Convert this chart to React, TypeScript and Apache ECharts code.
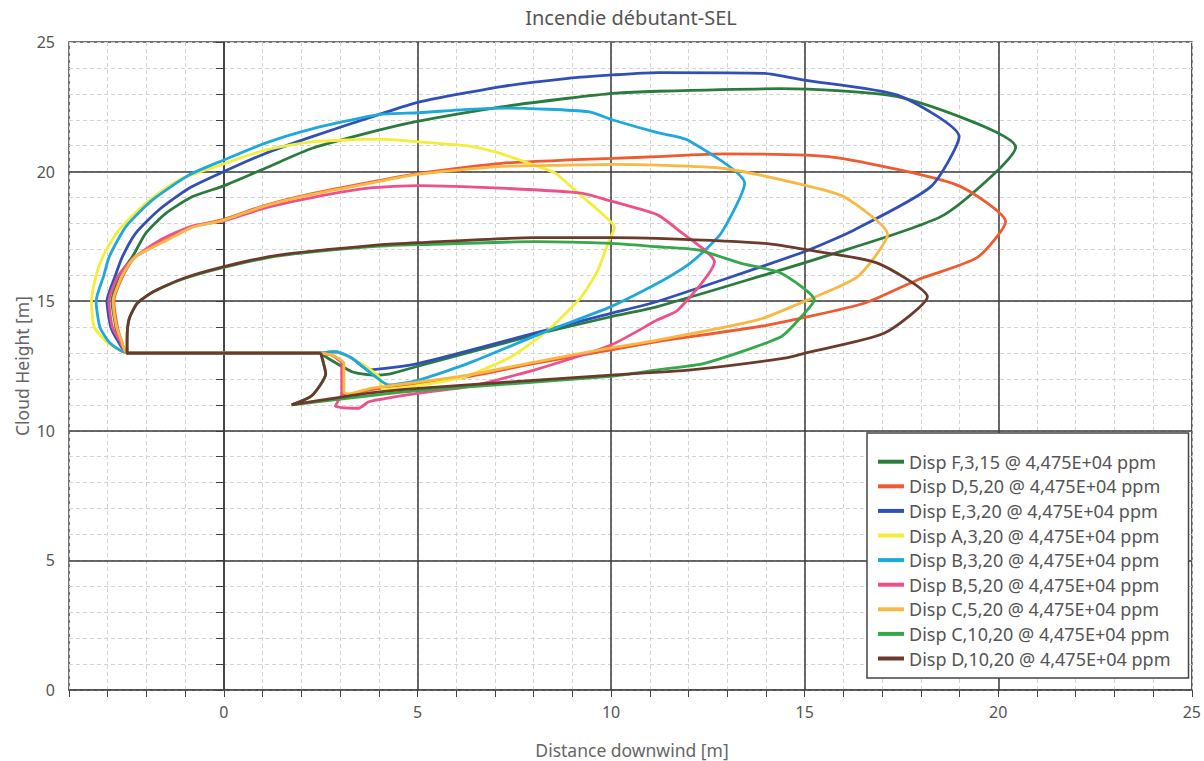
import React, { useEffect, useRef } from "react";
import * as echarts from "echarts";

const title = "Incendie débutant-SEL";
const xName = "Distance downwind [m]";
const yName = "Cloud Height [m]";
const majorX = [0, 5, 10, 15, 20];
const majorY = [5, 10, 15, 20];

const seriesNames = [
  "Disp F,3,15 @ 4,475E+04 ppm",
  "Disp D,5,20 @ 4,475E+04 ppm",
  "Disp E,3,20 @ 4,475E+04 ppm",
  "Disp A,3,20 @ 4,475E+04 ppm",
  "Disp B,3,20 @ 4,475E+04 ppm",
  "Disp B,5,20 @ 4,475E+04 ppm",
  "Disp C,5,20 @ 4,475E+04 ppm",
  "Disp C,10,20 @ 4,475E+04 ppm",
  "Disp D,10,20 @ 4,475E+04 ppm",
];
const seriesColors = ["#2a7b3c", "#f05a30", "#3050b8", "#f2ee3a", "#1ea8dc", "#f0508a", "#f7b846", "#34a84a", "#6b3a2a"];

const dispF315 = [[2.5,13],[-2.5,13],[-2.7,13.5],[-2.79,14],[-2.89,15],[-2.7,16],[-2.36,16.72],[-2.02,17.62],[-1.5,18.39],[-0.82,19.03],[0,19.45],[1.07,20.13],[2.28,20.9],[4.0,21.6],[5.03,21.95],[7.17,22.5],[8.89,22.83],[10.05,23.02],[11.2,23.1],[14.39,23.2],[17.48,22.86],[20.45,20.94],[18.6,18.33],[15.67,16.8],[11.2,14.79],[10.0,14.4],[8.03,13.7],[5.03,12.5],[4.3,12.2],[3.82,12.15],[3.31,12.28],[2.62,12.86],[2.5,13]];
const dispD520 = [[2.5,13],[-2.5,13],[-2.65,13.5],[-2.75,14],[-2.84,15],[-2.6,16],[-2.3,16.7],[-1.5,17.36],[-0.82,17.88],[0,18.16],[1.07,18.7],[2.28,19.15],[4.0,19.65],[5.03,19.93],[7.17,20.32],[8.89,20.45],[10.05,20.51],[11.2,20.58],[12.93,20.68],[15.76,20.55],[18.94,19.48],[20.19,18.07],[19.46,16.69],[17.91,15.82],[16.54,14.92],[14.05,14.08],[11.2,13.44],[10.0,13.12],[8.03,12.6],[6.31,12.09],[5.03,11.83],[3.74,11.57],[3.22,11.38],[3.05,11.45],[3.05,12.6],[2.78,12.92],[2.5,13]];
const dispE320 = [[2.5,13],[-2.5,13],[-2.75,13.5],[-2.92,14],[-3.02,15],[-2.8,16],[-2.62,16.72],[-2.28,17.62],[-1.68,18.52],[-0.9,19.36],[0,20.0],[1.07,20.7],[2.28,21.35],[4.0,22.2],[5.03,22.68],[7.17,23.28],[8.89,23.6],[10.05,23.73],[11.2,23.82],[13.96,23.79],[14.99,23.53],[17.4,22.95],[18.99,21.35],[18.26,19.42],[16.28,17.75],[14.99,16.91],[11.2,14.99],[10,14.53],[8.03,13.77],[5.03,12.6],[3.74,12.35],[3.31,12.8],[2.88,13.05],[2.5,13]];
const dispA320 = [[2.5,13],[-2.5,13],[-3.0,13.4],[-3.35,14],[-3.42,15],[-3.3,16],[-3.1,16.8],[-2.71,17.75],[-2.02,18.78],[-1.16,19.68],[0,20.3],[1.07,20.83],[2.28,21.15],[4.0,21.25],[5.03,21.15],[6.31,20.99],[7.09,20.72],[7.86,20.33],[8.55,19.95],[9.06,19.29],[9.75,18.4],[10.09,17.85],[9.92,17.24],[9.66,16.2],[9.23,15.17],[8.38,13.89],[7.42,12.86],[6.23,12.09],[5.03,11.75],[4.1,11.6],[4.0,12.1],[3.74,12.41],[3.31,12.8],[2.88,13.05],[2.5,13]];
const dispB320 = [[2.5,13],[-2.5,13],[-2.95,13.4],[-3.2,14],[-3.3,15],[-3.1,16],[-2.96,16.72],[-2.53,17.88],[-1.85,18.9],[-0.9,19.87],[0,20.45],[1.07,21.1],[2.28,21.65],[4.0,22.2],[5.03,22.27],[6.31,22.4],[7.35,22.45],[9.41,22.31],[10.05,21.99],[11.2,21.5],[11.98,21.22],[13.45,19.55],[12.84,17.62],[12.07,16.5],[11.2,15.69],[10.0,14.79],[8.2,13.76],[6.31,12.6],[5.03,11.96],[4.25,11.77],[3.91,12.09],[3.31,12.8],[2.88,13.05],[2.5,13]];
const dispB520 = [[2.5,13],[-2.5,13],[-2.7,13.5],[-2.88,14],[-2.97,15],[-2.72,16],[-2.3,16.7],[-1.6,17.4],[-0.82,17.9],[0,18.1],[1.07,18.6],[2.28,19.0],[3.74,19.36],[5.03,19.46],[7.17,19.36],[9.23,19.17],[10.05,18.84],[11.2,18.33],[11.73,17.75],[12.67,16.52],[11.73,14.66],[11.2,14.28],[10.0,13.31],[8.03,12.35],[6.31,11.7],[5.03,11.45],[3.74,11.12],[3.48,10.87],[2.88,10.96],[3.05,11.45],[3.05,12.6],[2.78,12.92],[2.5,13]];
const dispC520 = [[2.5,13],[-2.5,13],[-2.65,13.5],[-2.77,14],[-2.86,15],[-2.62,16],[-2.3,16.7],[-1.5,17.33],[-0.82,17.85],[0,18.13],[1.07,18.68],[2.28,19.12],[4.0,19.62],[5.03,19.9],[7.17,20.2],[8.89,20.25],[10.05,20.28],[11.2,20.25],[12.93,20.12],[14.99,19.48],[16.02,19.03],[17.14,17.58],[16.37,15.95],[15.08,15.05],[13.79,14.28],[11.2,13.5],[10.0,13.2],[8.03,12.65],[6.31,12.15],[5.03,11.88],[3.74,11.62],[3.22,11.42],[3.1,11.5],[3.1,12.6],[2.8,12.92],[2.5,13]];
const dispC1020 = [[2.5,13],[-2.5,13],[-2.5,13.5],[-2.45,14.3],[-2.25,14.9],[-1.9,15.3],[-1.16,15.8],[0,16.3],[1.42,16.75],[3.74,17.1],[5.03,17.18],[8.03,17.3],[10.0,17.23],[11.2,17.1],[12.24,16.98],[13.36,16.46],[14.39,16.08],[15.25,15.05],[14.99,14.53],[14.39,13.63],[12.41,12.6],[11.2,12.35],[10.0,12.1],[5.03,11.55],[3.74,11.35],[1.75,11.0],[2.27,11.35],[2.63,12.2],[2.53,12.85],[2.5,13]];
const dispD1020 = [[2.5,13],[-2.5,13],[-2.5,13.5],[-2.45,14.3],[-2.25,14.9],[-1.9,15.3],[-1.16,15.82],[0,16.33],[1.42,16.78],[4.0,17.17],[5.03,17.26],[8.0,17.45],[10.0,17.45],[11.2,17.42],[13.96,17.23],[15.08,16.98],[16.88,16.47],[18.17,15.17],[17.05,13.76],[14.99,12.99],[14.48,12.8],[12.07,12.35],[10.0,12.15],[5.03,11.64],[3.74,11.45],[1.75,11.0],[2.27,11.35],[2.63,12.2],[2.53,12.85],[2.5,13]];

const seriesData = [dispF315, dispD520, dispE320, dispA320, dispB320, dispB520, dispC520, dispC1020, dispD1020];

const FONT = "'Noto Sans', 'Open Sans', sans-serif";

export default function App() {
  const ref = useRef<HTMLDivElement>(null);
  useEffect(() => {
    if (!ref.current) return;
    const chart = echarts.init(ref.current, undefined, { renderer: "svg" });
    const axisColor = "#444";
    chart.setOption({
      animation: false,
      backgroundColor: "#fff",
      textStyle: { fontFamily: FONT },
      grid: { left: 69, right: 10, top: 42, bottom: 71, show: true, borderColor: axisColor, borderWidth: 1.5, backgroundColor: "transparent" },
      xAxis: {
        type: "value", min: -4, max: 25, interval: 1,
        axisLine: { show: true, lineStyle: { color: axisColor, width: 1.5 } },
        axisTick: { show: true, length: 7, lineStyle: { color: axisColor } },
        axisLabel: { margin: 14, color: "#555", fontSize: 16, fontFamily: FONT, formatter: (v: number) => (v % 5 === 0 ? String(v) : "") },
        splitLine: { show: true, lineStyle: { color: "#d4d4d4", type: [4, 3], width: 1 } },
      },
      yAxis: {
        type: "value", min: 0, max: 25, interval: 1,
        axisLine: { show: true, lineStyle: { color: axisColor, width: 1.5 } },
        axisTick: { show: true, length: 8, lineStyle: { color: axisColor } },
        axisLabel: { margin: 14, color: "#555", fontSize: 16, fontFamily: FONT, formatter: (v: number) => (v % 5 === 0 ? String(v) : "") },
        splitLine: { show: true, lineStyle: { color: "#d4d4d4", type: [4, 3], width: 1 } },
      },
      legend: {
        orient: "vertical", left: 867, top: 433, z: 10,
        data: seriesNames, icon: "rect", itemWidth: 26, itemHeight: 4, itemGap: 4.6,
        backgroundColor: "#fff", borderColor: axisColor, borderWidth: 1.5,
        padding: [18.7, 18, 9.5, 11],
        textStyle: { fontSize: 18, color: "#555", fontFamily: FONT, lineHeight: 20 },
      },
      graphic: [
        { type: "text", x: 631, y: 17, style: { text: title, fill: "#555", font: `20px ${FONT}`, textAlign: "center", textVerticalAlign: "middle" } },
        { type: "text", x: 632, y: 750, style: { text: xName, fill: "#666", font: `17.5px ${FONT}`, textAlign: "center", textVerticalAlign: "middle" } },
        { type: "text", x: 22, y: 366, rotation: Math.PI / 2, style: { text: yName, fill: "#666", font: `17.5px ${FONT}`, textAlign: "center", textVerticalAlign: "middle" } },
      ],
      series: [
        {
          type: "line", name: "__grid", data: [], silent: true, z: 1,
          markLine: {
            silent: true, symbol: "none", label: { show: false }, animation: false, z: 1,
            lineStyle: { color: "#3a3a3a", width: 1.5, type: "solid" },
            data: [...majorX.map((v) => ({ xAxis: v })), ...majorY.map((v) => ({ yAxis: v }))],
          },
        },
        ...seriesData.map((d, i) => ({
          type: "line", name: seriesNames[i], data: d, color: seriesColors[i],
          showSymbol: false, symbol: "none", smooth: 0.2, z: 3,
          lineStyle: { width: 2.8, color: seriesColors[i] },
        })),
      ],
    });
    return () => chart.dispose();
  }, []);
  return <div ref={ref} style={{ position: "fixed", left: 0, top: 0, width: 1204, height: 761 }} />;
}
